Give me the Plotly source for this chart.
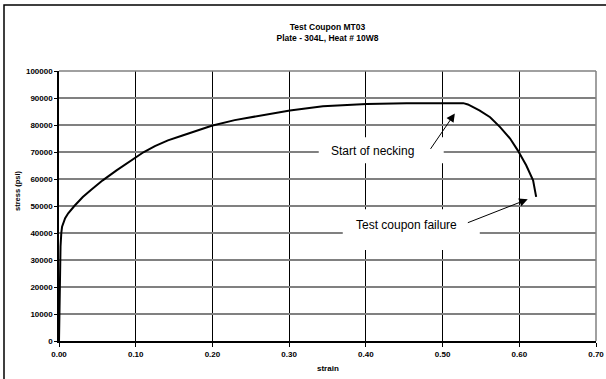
import plotly.graph_objects as go

# Stress-strain curve
strain = [0.000, 0.0005, 0.001, 0.002, 0.003, 0.004, 0.008, 0.012, 0.020, 0.031,
          0.042, 0.057, 0.075, 0.096, 0.110, 0.125, 0.142, 0.160, 0.180, 0.199, 0.229, 0.252,
          0.275, 0.301, 0.344, 0.401, 0.453, 0.509, 0.527, 0.533, 0.548, 0.562, 0.575,
          0.588, 0.598, 0.609, 0.618, 0.622]
stress = [0, 10000, 25000, 35000, 40000, 42300, 45500, 47300, 50000, 53300,
          56000, 59500, 63200, 67400, 69900, 72200, 74300, 76000, 77900, 79700, 81800, 83000,
          84200, 85400, 86900, 87800, 88100, 88100, 88100, 87600, 85400, 82900, 79200,
          75000, 70600, 65100, 59500, 53400]

x_ticks = [0.0, 0.1, 0.2, 0.3, 0.4, 0.5, 0.6, 0.7]
y_ticks = [0, 10000, 20000, 30000, 40000, 50000, 60000, 70000, 80000, 90000, 100000]

title_lines = ["Test Coupon MT03", "Plate - 304L, Heat # 10W8"]
x_title = "strain"
y_title = "stress (psi)"

label_necking = "Start of necking"
label_failure = "Test coupon failure"

FONT = "Liberation Sans, Arial, sans-serif"

fig = go.Figure()
fig.add_trace(go.Scatter(x=strain, y=stress, mode="lines",
                         line=dict(color="black", width=2), showlegend=False,
                         hoverinfo="skip"))

fig.update_layout(
    width=606, height=379,
    margin=dict(l=59, r=10, t=71, b=38, autoexpand=False),
    paper_bgcolor="white", plot_bgcolor="white",
    font=dict(family=FONT, color="black"),
    title=dict(text="<b>" + title_lines[0] + "</b><br><b>" + title_lines[1] + "</b>",
               x=0.5, xref="paper", xanchor="center",
               y=1 - 30 / 379, yanchor="middle",
               font=dict(size=8.5, family=FONT, color="black")),
    xaxis=dict(range=[0, 0.7], tickvals=x_ticks, tickformat=".2f",
               showgrid=True, gridcolor="black", gridwidth=1,
               showline=True, linecolor="black", linewidth=2,
               ticks="outside", ticklen=4, tickcolor="black",
               tickfont=dict(size=8, family=FONT, color="black", weight="bold"),
               automargin=False, zeroline=False, fixedrange=True),
    yaxis=dict(range=[0, 100000], tickvals=y_ticks, tickformat="d",
               showgrid=True, gridcolor="#808080", gridwidth=1.5,
               showline=True, linecolor="black", linewidth=1.5,
               ticks="outside", ticklen=3, tickcolor="black",
               tickfont=dict(size=8, family=FONT, color="black", weight="bold"),
               automargin=False, zeroline=False, fixedrange=True),
)

# axis titles
fig.add_annotation(x=0.5, y=(341 - 368) / 270, xref="paper", yref="paper",
                   xanchor="center", yanchor="middle",
                   text="<b>" + x_title + "</b>", showarrow=False,
                   font=dict(size=8, family=FONT, color="black"))
fig.add_annotation(x=(17 - 59) / 537, y=(341 - 191) / 270, xref="paper", yref="paper",
                   xanchor="center", yanchor="middle",
                   text="<b>" + y_title + "</b>", showarrow=False, textangle=-90,
                   font=dict(size=7.5, family=FONT, color="black"))

# top / right plot-area border in grey
fig.add_shape(type="line", xref="paper", yref="paper", x0=0, x1=1, y0=1, y1=1,
              line=dict(color="#808080", width=1.5), layer="above")
fig.add_shape(type="line", xref="paper", yref="paper", x0=1, x1=1, y0=0, y1=1,
              line=dict(color="#808080", width=1.5), layer="above")

# chart frame (left and top edges visible)
fig.add_shape(type="rect", xref="paper", yref="paper",
              x0=(4 - 59) / 537, x1=(640 - 59) / 537,
              y0=(341 - 400) / 270, y1=(341 - 5) / 270,
              line=dict(color="black", width=1.5), fillcolor="rgba(0,0,0,0)", layer="above")

# white label boxes covering gridlines
fig.add_shape(type="rect", xref="x", yref="y", x0=0.3386, x1=0.5015, y0=65860, y1=75480,
              fillcolor="white", line=dict(width=0), layer="between")
fig.add_shape(type="rect", xref="x", yref="y", x0=0.3699, x1=0.5485, y0=33670, y1=48840,
              fillcolor="white", line=dict(width=0), layer="between")

# labels
fig.add_annotation(x=0.4090, y=70300, xref="x", yref="y", text=label_necking,
                   showarrow=False, font=dict(size=12, family=FONT, color="black"))
fig.add_annotation(x=0.4527, y=42920, xref="x", yref="y", text=label_failure,
                   showarrow=False, font=dict(size=12, family=FONT, color="black"))

# arrows
fig.add_annotation(x=0.516, y=84300, ax=0.483, ay=70600, xref="x", yref="y",
                   axref="x", ayref="y", text="", showarrow=True,
                   arrowhead=2, arrowsize=1.7, arrowwidth=1, arrowcolor="black")
fig.add_annotation(x=0.611, y=52500, ax=0.531, ay=43600, xref="x", yref="y",
                   axref="x", ayref="y", text="", showarrow=True,
                   arrowhead=2, arrowsize=1.7, arrowwidth=1, arrowcolor="black")

fig.write_html("out.html")
